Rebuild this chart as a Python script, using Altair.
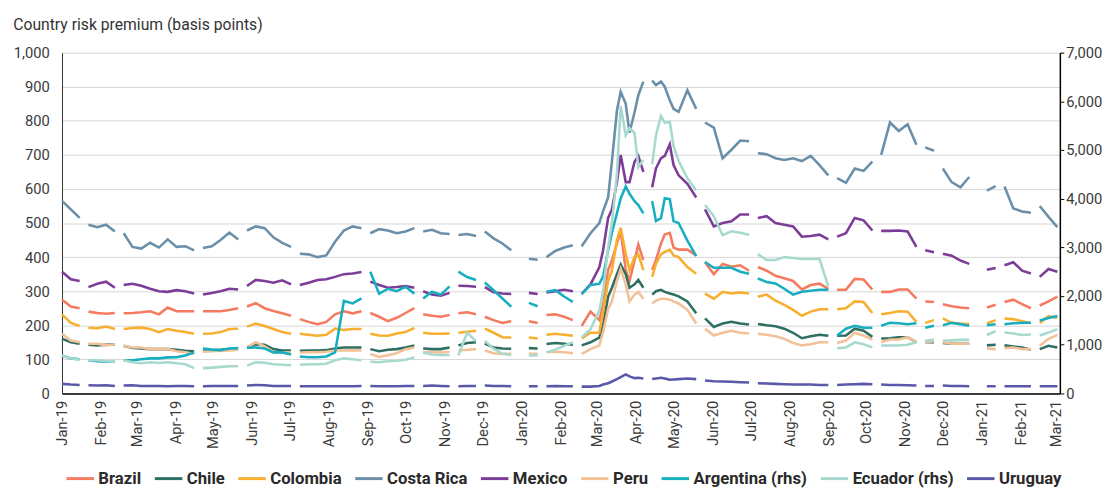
import altair as alt
import pandas as pd

FONT = "Roboto"

# sampling grid: weekly Tuesdays plus extra Fridays during the March-April 2020 spike
weekly_start = "2019-01-01"
weekly_end = "2021-03-02"
extra_dates = ["2020-03-06", "2020-03-13", "2020-03-20", "2020-03-27",
               "2020-04-03", "2020-04-17", "2020-04-24", "2020-05-01"]
# US bond-market holidays: series have no quote -> line breaks
holidays = ["2019-01-21", "2019-02-18", "2019-04-19", "2019-05-27", "2019-07-04",
            "2019-09-02", "2019-10-14", "2019-11-11", "2019-11-28", "2019-12-25",
            "2020-01-01", "2020-01-20", "2020-02-17", "2020-04-10", "2020-05-25",
            "2020-07-03", "2020-09-07", "2020-10-12", "2020-11-11", "2020-11-26",
            "2020-12-25", "2021-01-01", "2021-01-18", "2021-02-15"]

countries = ["Brazil", "Chile", "Colombia", "Costa Rica", "Mexico", "Peru",
             "Argentina (rhs)", "Ecuador (rhs)", "Uruguay"]
colors = ["#F47A60", "#2F6E62", "#F8AE2F", "#6B8FA8", "#7D3C98", "#F2C197",
          "#17AFC0", "#A8D9CF", "#5A58A8"]

brazil = [275, 255, 250, 240, 236, 234, 236, 235, 236, 238,
          241, 232, 252, 241, 241, 241, 241, 241, 241, 245,
          250, 255, 265, 250, 242, 235, 228, 218, 210, 203,
          210, 232, 241, 235, 241, 236, 225, 212, 222, 236,
          250, 232, 228, 225, 230, 235, 238, 232, 225, 215,
          207, 212, 216, 212, 207, 230, 232, 225, 215, 198,
          240, 215, 260, 362, 390, 440, 477, 362, 330, 390,
          437, 391, 362, 391, 440, 466, 471, 428, 422, 422,
          405, 385, 350, 380, 372, 376, 360, 371, 360, 345,
          338, 330, 305, 318, 322, 307, 304, 304, 336, 334,
          305, 298, 298, 305, 305, 278, 270, 268, 262, 256,
          252, 250, 250, 252, 260, 268, 275, 262, 250, 258, 270, 284]

chile = [161, 150, 146, 143, 141, 143, 144, 140, 133, 132,
         130, 130, 130, 128, 125, 124, 125, 127, 128, 130,
         132, 135, 144, 143, 130, 126, 126, 125, 126, 126,
         127, 132, 135, 135, 135, 130, 124, 128, 130, 135,
         141, 132, 130, 130, 135, 141, 148, 150, 146, 135,
         132, 131, 132, 133, 132, 145, 148, 146, 143, 141,
         150, 164, 200, 284, 310, 350, 378, 350, 310, 320,
         333, 310, 290, 300, 304, 298, 293, 290, 285, 270,
         235, 220, 195, 205, 210, 205, 202, 204, 200, 197,
         190, 178, 162, 168, 172, 169, 169, 170, 190, 184,
         166, 161, 162, 165, 165, 150, 150, 150, 148, 146,
         146, 146, 143, 141, 143, 141, 138, 135, 128, 130, 140, 135]

colombia = [232, 207, 198, 193, 191, 196, 189, 189, 192, 193,
            189, 180, 189, 184, 180, 175, 175, 176, 180, 189,
            190, 196, 205, 198, 189, 180, 175, 175, 172, 169,
            172, 190, 186, 189, 189, 175, 170, 169, 176, 180,
            192, 178, 175, 175, 176, 178, 181, 184, 190, 178,
            165, 164, 164, 164, 161, 172, 175, 172, 169, 161,
            178, 178, 240, 330, 360, 450, 486, 410, 362, 400,
            408, 362, 342, 380, 408, 415, 422, 405, 400, 371,
            351, 293, 278, 298, 293, 296, 293, 284, 290, 272,
            260, 245, 228, 240, 247, 247, 247, 250, 270, 268,
            236, 232, 236, 241, 240, 210, 207, 215, 220, 207,
            205, 204, 204, 205, 215, 220, 218, 212, 207, 207, 227, 221]

costa_rica = [565, 540, 515, 495, 488, 495, 475, 470, 430, 425,
              442, 428, 452, 430, 432, 420, 427, 432, 450, 472,
              452, 478, 490, 485, 458, 442, 430, 410, 408, 400,
              405, 445, 478, 490, 485, 470, 482, 478, 470, 475,
              485, 475, 480, 470, 468, 465, 468, 462, 475, 455,
              440, 420, 405, 395, 392, 400, 418, 428, 435, 432,
              470, 500, 535, 575, 680, 830, 885, 850, 765, 825,
              875, 915, 918, 905, 915, 900, 860, 835, 826, 890,
              835, 795, 780, 690, 715, 742, 740, 705, 702, 690,
              685, 690, 682, 697, 670, 640, 632, 618, 660, 653,
              680, 700, 795, 770, 790, 730, 722, 712, 660, 620,
              605, 635, 632, 595, 608, 607, 543, 534, 530, 550, 518, 488]

mexico = [357, 335, 330, 312, 322, 328, 310, 318, 322, 316,
          307, 300, 298, 303, 300, 293, 290, 295, 300, 307,
          305, 315, 333, 330, 325, 332, 320, 318, 325, 333,
          335, 342, 350, 352, 356, 328, 318, 310, 312, 315,
          310, 300, 290, 287, 295, 316, 315, 313, 312, 297,
          293, 292, 294, 295, 292, 296, 300, 304, 300, 292,
          320, 370, 420, 515, 540, 620, 700, 620, 620, 680,
          697, 650, 605, 660, 690, 697, 731, 670, 640, 615,
          575, 540, 490, 500, 505, 525, 525, 515, 520, 500,
          495, 490, 460, 462, 466, 452, 460, 470, 515, 508,
          478, 477, 477, 478, 475, 430, 420, 414, 410, 404,
          390, 380, 370, 363, 368, 376, 385, 360, 352, 342, 365, 357]

peru = [175, 155, 150, 146, 146, 141, 144, 140, 135, 135,
        130, 130, 130, 124, 121, 116, 122, 124, 125, 126,
        128, 135, 150, 138, 121, 120, 121, 120, 121, 121,
        122, 126, 126, 127, 126, 116, 107, 112, 118, 130,
        135, 121, 121, 120, 122, 126, 128, 130, 126, 118,
        116, 116, 117, 116, 116, 121, 122, 121, 118, 116,
        130, 141, 180, 247, 270, 330, 365, 320, 270, 290,
        298, 278, 264, 272, 278, 278, 275, 270, 264, 245,
        205, 190, 170, 178, 184, 178, 176, 175, 172, 168,
        160, 148, 141, 144, 150, 150, 148, 155, 178, 170,
        158, 150, 158, 158, 165, 150, 150, 153, 150, 146,
        146, 146, 140, 132, 130, 133, 135, 130, 130, 140, 160, 172]

argentina = [780, 720, 700, 680, 660, 650, 660, 680, 680, 700,
             720, 720, 740, 742, 780, 843, 920, 900, 890, 923,
             930, 940, 945, 923, 843, 843, 800, 760, 745, 745,
             760, 843, 1900, 1850, 1950, 2500, 2050, 2150, 2100, 2190,
             2050, 1950, 2090, 2030, 2200, 2500, 2390, 2330, 2280, 2120,
             1950, 1780, 1990, 1860, 1790, 2090, 2120, 1990, 1880, 2040,
             2230, 2250, 2400, 2940, 3300, 3700, 4010, 4250, 4100, 3950,
             3870, 3700, 3950, 3540, 3600, 4010, 3990, 3540, 3500, 3140,
             2820, 2700, 2580, 2580, 2580, 2500, 2460, 2360, 2290, 2260,
             2150, 2030, 2090, 2110, 2130, 2130, 1190, 1330, 1390, 1350,
             1350, 1390, 1450, 1440, 1420, 1440, 1350, 1390, 1400, 1450,
             1420, 1390, 1390, 1400, 1420, 1420, 1440, 1450, 1450, 1500, 1550, 1590]

ecuador = [780, 720, 690, 680, 680, 660, 660, 680, 640, 620,
           640, 625, 640, 620, 600, 520, 520, 530, 545, 560,
           560, 570, 640, 630, 600, 590, 580, 590, 600, 600,
           610, 680, 720, 700, 680, 650, 640, 660, 670, 690,
           740, 843, 800, 790, 790, 782, 1250, 1070, 1080, 920,
           815, 790, 782, 782, 782, 843, 900, 980, 1050, 1150,
           1320, 1700, 2100, 3000, 3500, 4500, 5900, 5300, 5450, 5350,
           4650, 4800, 4710, 5300, 5700, 5560, 5580, 5080, 4780, 4420,
           4170, 3870, 3640, 3250, 3330, 3300, 3260, 2860, 2740, 2740,
           2800, 2780, 2760, 2760, 2760, 2200, 930, 945, 1050, 1010,
           945, 985, 985, 985, 1000, 1050, 1080, 1100, 1080, 1090,
           1100, 1100, 1180, 1200, 1280, 1250, 1230, 1200, 1210, 1190, 1250, 1320]

uruguay = [28, 26, 25, 24, 23, 24, 22, 23, 24, 22,
           22, 22, 21, 22, 22, 21, 21, 22, 22, 22,
           22, 23, 25, 24, 22, 22, 22, 21, 21, 21,
           21, 21, 21, 21, 22, 22, 21, 21, 21, 22,
           22, 22, 23, 22, 21, 21, 22, 22, 23, 22,
           22, 21, 22, 21, 21, 21, 22, 21, 21, 20,
           20, 22, 26, 30, 35, 42, 48, 56, 50, 45,
           46, 44, 42, 44, 46, 44, 40, 41, 42, 44,
           42, 38, 36, 35, 34, 33, 32, 30, 29, 28,
           27, 26, 26, 26, 25, 25, 25, 26, 27, 28,
           27, 26, 25, 25, 24, 23, 22, 22, 23, 22,
           22, 21, 21, 21, 21, 21, 21, 21, 21, 21, 21, 21]

dates = sorted(list(pd.date_range(weekly_start, weekly_end, freq="7D")) +
               list(pd.to_datetime(extra_dates)))

left_data = {"Brazil": brazil, "Chile": chile, "Colombia": colombia,
             "Costa Rica": costa_rica, "Mexico": mexico, "Peru": peru,
             "Uruguay": uruguay}
right_data = {"Argentina (rhs)": argentina, "Ecuador (rhs)": ecuador}


def build(series):
    rows = []
    for name, vals in series.items():
        assert len(vals) == len(dates), (name, len(vals), len(dates))
        for d, v in zip(dates, vals):
            rows.append({"date": d.strftime("%Y-%m-%dT00:00:00"), "country": name, "value": v})
        for h in holidays:
            rows.append({"date": h + "T00:00:00", "country": name, "value": None})
    df = pd.DataFrame(rows)
    return df.sort_values(["country", "date"]).reset_index(drop=True)


df_left = build(left_data)
df_right = build(right_data)

x_enc = alt.X(
    "date:T",
    scale=alt.Scale(domain=[alt.DateTime(year=2019, month=1, date=1),
                            alt.DateTime(year=2021, month=3, date=4)]),
    axis=alt.Axis(title=None, format="%b-%y", labelAngle=270,
                  tickCount={"interval": "month", "step": 1},
                  labelOverlap=False, labelFlush=False, ticks=False, grid=False,
                  domainColor="#000000", domainWidth=1.5,
                  labelFont=FONT, labelFontSize=15, labelColor="#3a3a3a",
                  labelPadding=7),
)

color_enc = alt.Color(
    "country:N",
    scale=alt.Scale(domain=countries, range=colors),
    legend=alt.Legend(title=None, orient="none", legendX=3, legendY=418,
                      direction="horizontal", columns=9,
                      symbolType="stroke", symbolSize=784, symbolStrokeWidth=3,
                      labelFont=FONT, labelFontSize=17, labelFontWeight="bold",
                      labelColor="#2a2a2a", labelOffset=3, columnPadding=7,
                      padding=0),
    sort=countries,
)

left = alt.Chart(df_left).mark_line(strokeWidth=2.6).encode(
    x=x_enc,
    y=alt.Y("value:Q",
            scale=alt.Scale(domain=[0, 1000], nice=False),
            axis=alt.Axis(title=None, values=list(range(0, 1001, 100)), format=",.0f",
                          ticks=False, grid=True, gridColor="#d6d6d6", gridWidth=1,
                          domainColor="#333333", domainWidth=1,
                          labelFont=FONT, labelFontSize=15, labelColor="#3a3a3a",
                          labelPadding=13)),
    color=color_enc,
)

right = alt.Chart(df_right).mark_line(strokeWidth=2.6).encode(
    x=x_enc,
    y=alt.Y("value:Q",
            scale=alt.Scale(domain=[0, 7000], nice=False),
            axis=alt.Axis(title=None, orient="right", values=list(range(0, 7001, 1000)),
                          format=",.0f", ticks=True, tickSize=4, tickColor="#000000",
                          grid=False, domainColor="#000000", domainWidth=1.5,
                          labelFont=FONT, labelFontSize=15, labelColor="#3a3a3a",
                          labelPadding=2)),
    color=color_enc,
)

chart = alt.layer(left, right).resolve_scale(y="independent").properties(
    width=1016, height=347,
    title=alt.Title("Country risk premium (basis points)", anchor="start",
                    frame="bounds", font=FONT, fontSize=16, fontWeight="normal",
                    color="#333333", offset=13),
).configure_view(strokeWidth=0)

chart.save("out.html", embed_options={"renderer": "svg", "actions": False})
